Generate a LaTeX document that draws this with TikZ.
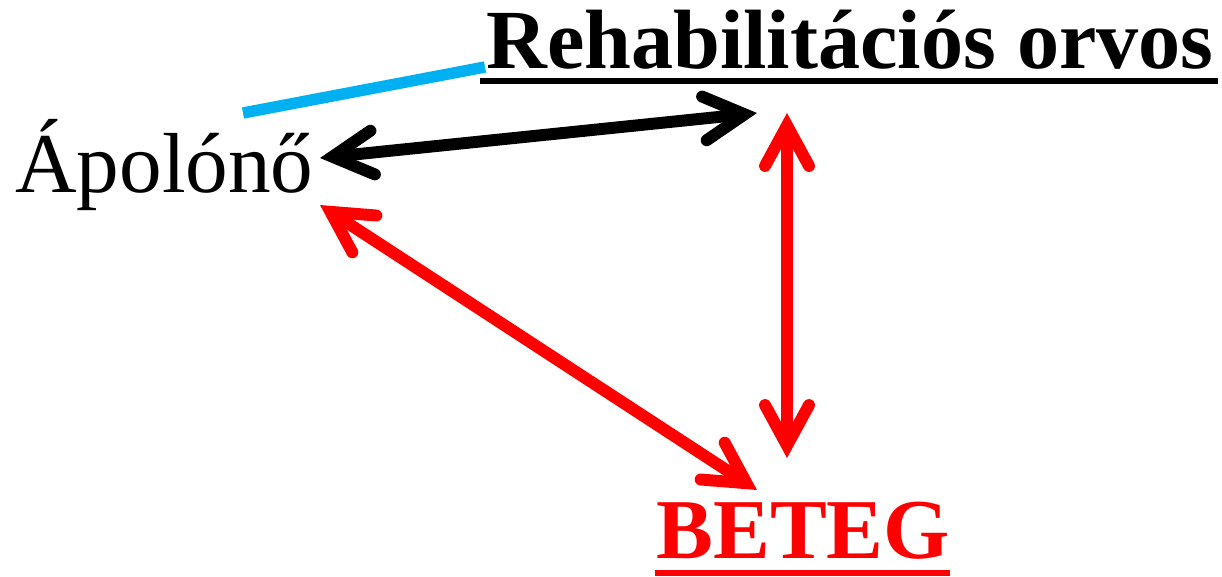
\documentclass[tikz,border=0pt]{standalone}
\usepackage{fontspec}
\setmainfont{Liberation Serif}
\usetikzlibrary{arrows.meta,calc}
\definecolor{skyline}{RGB}{0,176,240}

\begin{document}
\begin{tikzpicture}[x=0.02cm,y=-0.02cm,
    barb/.tip={Straight Barb[length=23pt,width=25pt,line cap=round]},
    link/.style={line width=6.8pt, line cap=round, barb-barb},
    word/.style={anchor=base west, inner sep=0pt, font=\fontsize{48.5}{54}\selectfont},
    ]
    \useasboundingbox (0,0) rectangle (1222,576);

    \node [word] (nurse) at (15,192) {Ápolónő};
    \node [word, font=\fontsize{47.9}{54}\selectfont\bfseries] (doctor) at (486,68) {Rehabilitációs orvos};
    \node [word, text=red, font=\fontsize{48.5}{54}\selectfont\bfseries] (patient) at (656,558) {BETEG};

    \draw[line width=3.9pt] ($(doctor.base west)+(-6,13)$) -- ($(doctor.base east)+(4,13)$);
    \draw[line width=3.6pt, red] ($(patient.base west)+(-1,15)$) -- ($(patient.base east)+(0,15)$);

    \coordinate (N1) at (320,158);
    \coordinate (N2) at (320,205);
    \coordinate (D1) at (757,113);
    \coordinate (D2) at (787,113);
    \coordinate (P1) at (757,490);
    \coordinate (P2) at (787,458);
    \coordinate (B1) at (243,113);
    \coordinate (B2) at (485,67);

    \draw[line width=6.5pt, skyline] (B1) -- (B2);
    \draw[link] (N1) -- (D1);
    \draw[link, red] (D2) -- (P2);
    \draw[link, red] (N2) -- (P1);
\end{tikzpicture}
\end{document}
